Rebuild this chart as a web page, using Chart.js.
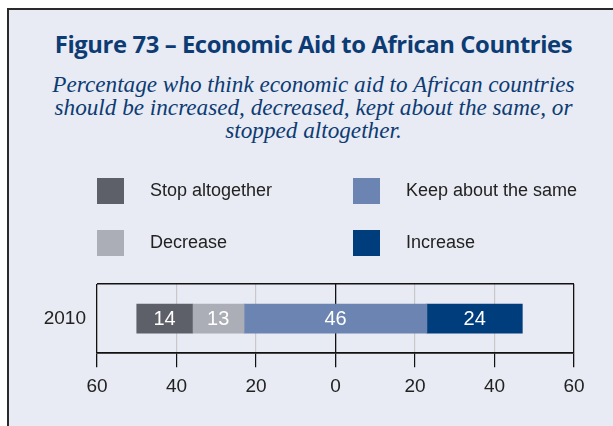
<!DOCTYPE html>
<html>
<head>
<meta charset="utf-8">
<script src="https://cdn.jsdelivr.net/npm/chart.js@4"></script>
<style>
  html, body { margin: 0; padding: 0; background: #fff; }
  #wrap { position: relative; width: 613px; height: 426px; overflow: hidden; }
  #panel {
    position: absolute; left: 7px; top: 8px; width: 620px; height: 430px;
    background: #e8ebf3; border-left: 2px solid #2a2a2a; border-top: 2px solid #2a2a2a;
  }
  #title {
    position: absolute; left: 0; width: 627px; top: 28px; text-align: center;
    font-family: "Open Sans", sans-serif; font-weight: bold; font-size: 23.8px;
    color: #0d3b73; letter-spacing: -0.4px; white-space: nowrap;
  }
  #subtitle {
    position: absolute; left: 0; width: 627px; top: 73px; text-align: center;
    font-family: "Liberation Serif", serif; font-style: italic; font-size: 23.2px;
    line-height: 23px; color: #0d3b73; white-space: nowrap;
  }
  canvas { position: absolute; left: 0; top: 0; }
</style>
</head>
<body>
<div id="wrap">
  <div id="panel"></div>
  <div id="title">Figure 73 – Economic Aid to African Countries</div>
  <div id="subtitle">Percentage who think economic aid to African countries<br>should be increased, decreased, kept about the same, or<br>stopped altogether.</div>
  <canvas id="chart" width="613" height="426"></canvas>
</div>
<script>
// data
const years = ['2010'];
const stopAltogether = [14];
const decrease = [13];
const keepSame = [46];
const increase = [24];
const seriesNames = ['Stop altogether', 'Decrease', 'Keep about the same', 'Increase'];
const seriesColors = ['#5d6069', '#abaeb6', '#6c84b1', '#003d7c'];
const tickValues = [-60, -40, -20, 0, 20, 40, 60];

const narrow = '"Liberation Sans Narrow", "Liberation Sans", sans-serif';

// floating bars: keep-about-the-same is split around zero
const keepStart = keepSame.map(v => -v / 2);
const decStart = keepStart.map((s, i) => s - decrease[i]);
const stopStart = decStart.map((s, i) => s - stopAltogether[i]);
const incStart = keepSame.map(v => v / 2);

const ranges = [
  stopStart.map((s, i) => [s, s + stopAltogether[i]]),
  decStart.map((s, i) => [s, s + decrease[i]]),
  keepStart.map((s, i) => [s, s + keepSame[i]]),
  incStart.map((s, i) => [s, s + increase[i]]),
];
const rawValues = [stopAltogether, decrease, keepSame, increase];

// legend drawn at fixed grid positions
const legendPlugin = {
  id: 'gridLegend',
  afterDraw(chart) {
    const ctx = chart.ctx;
    const cols = [97, 353];
    const rows = [178, 230];
    ctx.save();
    ctx.font = '18px ' + narrow;
    ctx.textBaseline = 'middle';
    ctx.textAlign = 'left';
    // order: column-major (Stop, Decrease | Keep, Increase)
    seriesNames.forEach((name, i) => {
      const x = cols[Math.floor(i / 2)];
      const y = rows[i % 2];
      ctx.fillStyle = seriesColors[i];
      ctx.fillRect(x, y, 27, 26);
      ctx.fillStyle = '#222';
      ctx.fillText(name, x + 53, y + 13);
    });
    ctx.restore();
  }
};

const valueLabels = {
  id: 'valueLabels',
  afterDatasetsDraw(chart) {
    const ctx = chart.ctx;
    ctx.save();
    ctx.font = '20px ' + narrow;
    ctx.fillStyle = '#fff';
    ctx.textAlign = 'center';
    ctx.textBaseline = 'middle';
    chart.data.datasets.forEach((ds, di) => {
      chart.getDatasetMeta(di).data.forEach((bar, i) => {
        const cx = (bar.x + bar.base) / 2;
        ctx.fillText(String(rawValues[di][i]), cx, bar.y + 1);
      });
    });
    ctx.restore();
  }
};

new Chart(document.getElementById('chart'), {
  type: 'bar',
  data: {
    labels: years,
    datasets: seriesNames.map((name, i) => ({
      label: name,
      data: ranges[i],
      backgroundColor: seriesColors[i],
      borderWidth: 0,
      barThickness: 29,
      grouped: false,
    })),
  },
  options: {
    indexAxis: 'y',
    responsive: false,
    animation: false,
    layout: { padding: { left: 0, right: 39, top: 284, bottom: 20 } },
    plugins: {
      legend: { display: false },
      tooltip: { enabled: false },
    },
    scales: {
      x: {
        min: -60,
        max: 60,
        afterBuildTicks: axis => { axis.ticks = tickValues.map(v => ({ value: v })); },
        grid: {
          color: c => (c.tick && (c.tick.value === 0 || Math.abs(c.tick.value) === 60)) ? '#111' : '#c8c8c8',
          lineWidth: c => (c.tick && (c.tick.value === 0 || Math.abs(c.tick.value) === 60)) ? 1.3 : 1.2,
          tickColor: '#111',
          tickLength: 14,
        },
        border: { display: true, color: '#111', width: 1.5 },
        ticks: {
          callback: v => Math.abs(v),
          color: '#222',
          font: { family: narrow, size: 19 },
          padding: 8,
          maxRotation: 0,
        },
      },
      y: {
        grid: { color: '#111', lineWidth: 1.5, drawTicks: false },
        border: { display: false },
        ticks: {
          color: '#222',
          font: { family: narrow, size: 19 },
          padding: 11,
        },
        afterFit: axis => { axis.width = 97; },
      },
    },
  },
  plugins: [legendPlugin, valueLabels],
});
</script>
</body>
</html>
